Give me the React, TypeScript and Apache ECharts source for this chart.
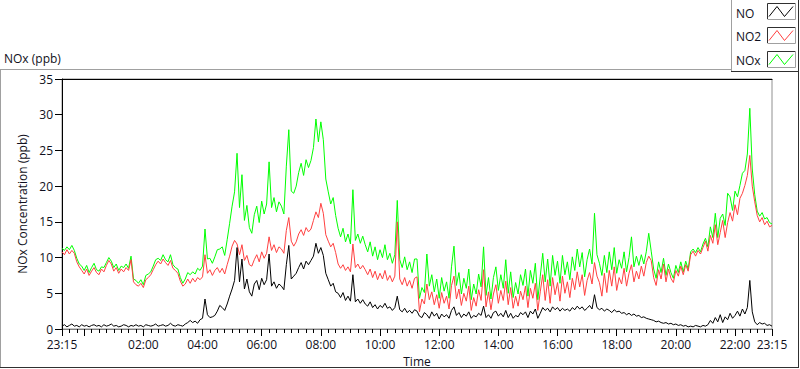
import React, { useEffect, useRef } from "react";
import * as echarts from "echarts";

// ---- Data ----
const SERIES_NAMES = ["NO", "NO2", "NOx"];
const SERIES_COLORS = ["#000000", "#ff4040", "#00ff00"];
const CHART_TITLE = "NOx (ppb)";
const Y_NAME = "NOx Concentration (ppb)";
const X_NAME = "Time";

// time axis in minutes after 22:00 of the previous day: 23:15 -> 75, next 23:15 -> 1515
const START_MIN = 75;
const END_MIN = 1515;
const STEP_MIN = 5;
const X_LABEL_VALUES = [75, 240, 360, 480, 600, 720, 840, 960, 1080, 1200, 1320, 1440, 1515];
const X_MAJOR_TICKS = [75, 120, 240, 360, 480, 600, 720, 840, 960, 1080, 1200, 1320, 1440, 1515];
const X_MINOR_STEP = 15;
const Y_MIN = 0;
const Y_MAX = 35;
const Y_INTERVAL = 5;

const NO = [
  0.4, 0.6, 0.3, 0.5, 0.7, 0.4, 0.5, 0.3, 0.6, 0.4, 0.5, 0.3,
  0.5, 0.6, 0.4, 0.5, 0.3, 0.6, 0.4, 0.5, 0.7, 0.4, 0.5, 0.3,
  0.4, 0.6, 0.5, 0.3, 0.5, 0.4, 0.6, 0.4, 0.5, 0.3, 0.6, 0.5,
  0.4, 0.5, 0.7, 0.4, 0.5, 0.6, 0.4, 0.5, 0.8, 0.5, 0.4, 0.6,
  0.5, 0.4, 0.7, 0.9, 1.2, 0.9, 1.1, 0.8, 1.3, 1.5, 4.2, 2.0,
  1.6, 1.7, 1.9, 2.5, 3.3, 3.0, 2.6, 3.5, 4.6, 5.6, 6.8, 11.4,
  6.6, 9.8, 5.6, 7.0, 5.2, 4.6, 6.3, 6.8, 5.5, 7.1, 6.2, 6.9,
  10.5, 6.0, 6.6, 5.7, 6.3, 6.0, 5.5, 9.0, 11.7, 7.0, 7.4, 7.8,
  8.6, 9.3, 8.4, 9.5, 9.0, 9.6, 10.2, 12.0, 10.6, 11.4, 10.3, 7.8,
  6.9, 6.0, 6.4, 5.2, 5.0, 4.4, 5.1, 4.0, 4.6, 3.9, 7.6, 3.8,
  4.2, 3.6, 4.1, 3.5, 3.2, 3.8, 3.0, 3.4, 2.8, 3.3, 3.0, 3.6,
  2.9, 3.1, 2.6, 3.0, 4.6, 2.7, 2.4, 2.9, 2.3, 2.6, 2.2, 2.7,
  2.5, 1.8, 1.6, 2.3, 2.0, 1.5, 2.4, 1.8, 2.2, 1.4, 2.1, 1.7,
  2.0, 1.5, 2.6, 3.1, 1.9, 2.3, 1.6, 2.1, 1.8, 2.4, 1.5, 1.9,
  1.7, 2.2, 1.9, 3.2, 1.6, 2.0, 1.5, 2.3, 2.5, 1.8, 2.2, 1.7,
  2.6, 1.6, 2.2, 1.5, 1.9, 1.7, 2.3, 2.0, 2.4, 1.6, 2.5, 2.1,
  2.8, 1.5, 2.2, 3.0, 2.6, 2.9, 2.4, 3.1, 2.7, 3.0, 2.5, 2.9,
  2.6, 2.8, 2.5, 3.0, 2.7, 3.2, 2.8, 3.1, 2.6, 2.9, 3.3, 2.8,
  4.8, 3.0, 2.7, 2.9, 2.5, 2.8, 2.6, 2.3, 2.7, 2.4, 2.5, 2.2,
  2.3, 2.0, 2.2, 1.9, 2.1, 1.8, 1.9, 1.6, 1.7, 1.5, 1.4, 1.3,
  1.2, 1.0, 1.1, 0.9, 0.8, 0.9, 0.7, 0.8, 0.6, 0.7, 0.5, 0.6,
  0.4, 0.5, 0.3, 0.4, 0.3, 0.5, 0.4, 0.3, 0.5, 0.4, 0.6, 1.2,
  0.8, 1.6, 1.0, 2.0, 0.9, 1.7, 1.3, 2.2, 1.5, 1.9, 2.5, 1.8,
  2.8, 2.1, 3.0, 6.8, 2.4, 1.0, 0.6, 0.9, 0.7, 0.8, 0.5, 0.6, 0.4,
];

const NO2 = [
  10.8, 10.4, 11.1, 10.5, 11.0, 10.6, 9.4, 8.7, 8.2, 7.7, 8.4, 7.5,
  8.1, 8.6, 7.9, 7.6, 8.4, 8.0, 8.9, 9.6, 9.1, 8.1, 8.6, 7.8,
  8.4, 8.0, 8.6, 8.2, 9.7, 6.6, 6.2, 6.0, 6.4, 5.8, 6.9, 7.2,
  7.6, 8.3, 9.0, 9.5, 9.1, 9.8, 9.3, 8.9, 9.6, 8.5, 8.2, 7.8,
  6.7, 6.0, 6.3, 7.0, 6.4, 7.1, 6.6, 7.2, 6.9, 7.3, 10.4, 7.8,
  8.3, 7.5, 8.2, 8.6, 7.9, 8.5, 7.7, 9.0, 10.2, 11.6, 12.4, 11.9,
  10.4, 11.8, 9.6, 10.3, 9.0, 8.8, 9.7, 10.4, 9.4, 10.8, 9.9, 10.6,
  12.9, 11.0, 11.8, 10.7, 11.5, 11.2, 10.6, 13.8, 15.6, 12.3, 11.6, 12.2,
  13.3, 13.9, 13.1, 14.2, 13.6, 14.0, 15.2, 16.4, 15.6, 17.6, 16.2, 13.2,
  12.3, 11.5, 12.0, 10.7, 9.1, 8.5, 9.0, 8.2, 8.7, 8.0, 11.9, 8.6,
  9.1, 8.4, 8.9, 8.3, 7.6, 8.4, 7.2, 8.1, 6.9, 7.8, 7.0, 8.2,
  6.8, 7.5, 6.6, 7.4, 15.0, 7.0, 6.2, 7.2, 6.0, 6.8, 5.7, 7.1,
  7.3, 2.4, 4.2, 3.5, 6.3, 4.1, 5.2, 3.4, 4.8, 2.9, 5.1, 3.6,
  4.6, 2.8, 6.1, 7.4, 4.2, 5.6, 3.3, 5.0, 3.9, 6.0, 2.6, 4.4,
  3.2, 5.5, 4.0, 8.3, 3.1, 5.2, 2.7, 4.9, 6.2, 3.6, 5.4, 4.0,
  6.7, 3.4, 5.8, 2.9, 4.6, 3.2, 5.3, 4.1, 6.0, 3.0, 5.7, 4.3,
  6.4, 2.6, 5.2, 7.6, 4.0, 6.9, 3.6, 7.2, 4.8, 6.5, 3.9, 7.4,
  5.0, 6.6, 4.4, 7.1, 5.5, 8.0, 5.9, 7.6, 4.7, 6.8, 7.9, 6.3,
  9.3, 7.4, 6.5, 4.6, 7.8, 5.1, 8.2, 6.0, 8.7, 5.4, 7.2, 6.3,
  8.5, 6.0, 7.8, 9.0, 6.6, 8.1, 7.0, 8.8, 7.4, 9.3, 10.2, 9.6,
  7.2, 6.1, 8.3, 7.0, 9.1, 6.6, 8.4, 7.1, 6.5, 8.2, 7.4, 8.8,
  7.6, 9.0, 8.1, 10.4, 10.9, 10.2, 11.0, 10.5, 11.4, 12.3, 10.9, 13.1,
  12.0, 14.6, 11.8, 13.5, 15.2, 12.8, 14.9, 16.3, 15.1, 17.4, 16.0, 18.3,
  19.0, 20.1, 21.5, 24.3, 20.0, 17.8, 15.9, 15.0, 15.6, 14.6, 15.1, 14.3, 14.5,
];

const NOX = [
  11.3, 11.0, 11.5, 11.1, 11.7, 11.0, 9.9, 9.1, 8.8, 8.2, 8.9, 7.9,
  8.6, 9.2, 8.3, 8.1, 8.7, 8.6, 9.3, 10.0, 9.5, 8.6, 9.1, 8.2,
  8.8, 8.6, 9.1, 8.5, 10.2, 7.0, 6.8, 6.4, 6.9, 6.2, 7.5, 7.7,
  8.0, 8.8, 9.7, 9.9, 9.6, 10.4, 9.7, 9.4, 10.4, 9.0, 8.6, 8.4,
  7.2, 6.4, 7.0, 7.9, 7.6, 8.0, 7.7, 8.5, 8.2, 8.8, 14.0, 9.8,
  9.9, 9.2, 10.1, 11.1, 11.2, 11.5, 10.3, 12.5, 14.8, 17.2, 19.2, 24.6,
  17.0, 21.6, 15.2, 17.3, 14.2, 13.4, 16.0, 17.2, 14.9, 17.9, 16.1, 17.5,
  23.4, 17.0, 18.4, 16.4, 17.8, 17.2, 16.1, 22.8, 27.9, 19.3, 19.0, 20.0,
  21.9, 23.2, 21.5, 23.7, 22.6, 23.6, 25.4, 29.4, 26.2, 29.0, 26.5, 21.0,
  19.2, 17.5, 18.4, 15.9, 14.1, 12.9, 14.1, 12.2, 13.3, 11.9, 19.5, 12.4,
  13.3, 12.0, 13.0, 11.8, 10.8, 12.2, 10.2, 11.5, 9.7, 11.1, 10.0, 11.8,
  9.7, 10.6, 9.2, 10.4, 18.0, 9.7, 8.6, 10.1, 8.3, 9.4, 7.9, 9.8,
  9.8, 4.3, 5.8, 5.1, 10.5, 6.0, 7.6, 5.2, 7.0, 4.3, 7.2, 5.3,
  6.6, 4.3, 8.7, 11.6, 6.1, 7.9, 4.9, 7.1, 5.7, 8.4, 4.1, 6.3,
  4.9, 7.7, 5.9, 11.5, 4.7, 7.2, 4.2, 7.2, 8.7, 5.4, 7.6, 5.7,
  9.7, 5.0, 8.0, 4.4, 6.5, 4.9, 7.6, 6.1, 8.4, 4.6, 8.2, 6.4,
  9.2, 4.1, 7.4, 10.6, 6.6, 9.8, 6.0, 10.3, 7.5, 9.5, 6.4, 10.3,
  7.6, 9.4, 6.9, 10.1, 8.2, 11.2, 8.7, 10.7, 7.3, 9.7, 11.2, 9.1,
  16.2, 10.4, 9.2, 7.5, 10.3, 7.9, 10.8, 8.3, 11.4, 7.8, 9.7, 8.5,
  10.8, 8.0, 10.0, 12.9, 8.7, 10.2, 8.9, 10.4, 9.1, 10.8, 13.4, 10.9,
  8.4, 7.1, 9.4, 7.9, 9.9, 7.5, 9.1, 7.9, 7.1, 8.9, 7.9, 9.4,
  8.0, 9.5, 8.4, 10.8, 11.2, 10.7, 11.4, 10.8, 11.9, 12.7, 11.5, 14.3,
  12.8, 16.2, 12.8, 15.5, 16.1, 14.5, 19.0, 18.5, 16.6, 19.3, 18.5, 20.1,
  21.8, 22.2, 24.5, 30.9, 22.4, 18.8, 16.5, 15.8, 16.3, 15.4, 15.6, 14.9, 14.7,
];

const SERIES_VALUES = [NO, NO2, NOX];

const FONT = "'Open Sans', 'Noto Sans', sans-serif";
const TEXT_COLOR = "#101020";

function fmtTime(v: number): string {
  const h = (22 + Math.floor(v / 60)) % 24;
  const m = ((v % 60) + 60) % 60;
  return String(h).padStart(2, "0") + ":" + String(m).padStart(2, "0");
}

function toPairs(values: number[]): [number, number][] {
  return values.map((v, i) => [START_MIN + i * STEP_MIN, v]);
}

export default function App() {
  const ref = useRef<HTMLDivElement>(null);

  useEffect(() => {
    if (!ref.current) return;
    const chart = echarts.init(ref.current, undefined, { renderer: "svg" });

    const minorTicks: number[] = [];
    for (let v = START_MIN; v <= END_MIN; v += X_MINOR_STEP) minorTicks.push(v);

    // draw order: NOx (bottom), NO2, NO (top)
    const order = [2, 1, 0];
    const series = order.map((k) => ({
      name: SERIES_NAMES[k],
      type: "line",
      data: toPairs(SERIES_VALUES[k]),
      showSymbol: false,
      symbol: "none",
      lineStyle: { color: SERIES_COLORS[k], width: 1 },
      itemStyle: { color: SERIES_COLORS[k] },
      xAxisIndex: 0,
      yAxisIndex: 0,
      silent: true,
    }));

    // legend graphics
    const legendTop = [3, 27, 51];
    const legendTextY = [13, 36, 60];
    const legendEls: any[] = [
      { type: "rect", shape: { x: 731, y: 0, width: 68, height: 72 }, style: { fill: "#ffffff" }, z: 100 },
      { type: "line", shape: { x1: 731.5, y1: 0, x2: 731.5, y2: 72 }, style: { stroke: "#a0a0a0", lineWidth: 1 }, z: 101 },
      { type: "line", shape: { x1: 731, y1: 71.5, x2: 799, y2: 71.5 }, style: { stroke: "#303030", lineWidth: 1 }, z: 101 },
    ];
    SERIES_NAMES.forEach((name, k) => {
      const t = legendTop[k];
      legendEls.push({
        type: "text",
        style: { text: name, x: 736, y: legendTextY[k], font: `12px ${FONT}`, fill: TEXT_COLOR, verticalAlign: "middle", align: "left" },
        z: 102,
      });
      legendEls.push({ type: "rect", shape: { x: 767, y: t, width: 28, height: 16 }, style: { fill: "#ffffff" }, z: 101 });
      legendEls.push({ type: "polyline", shape: { points: [[767.5, t + 16], [767.5, t + 0.5], [795, t + 0.5]] }, style: { stroke: "#303030", lineWidth: 1, fill: null }, z: 102 });
      legendEls.push({ type: "polyline", shape: { points: [[767.5, t + 16.5], [795.5, t + 16.5], [795.5, t]] }, style: { stroke: "#a0a0a0", lineWidth: 1, fill: null }, z: 102 });
      legendEls.push({
        type: "polyline",
        shape: { points: [[769, t + 13.5], [777, t + 3.5], [784.5, t + 13.5], [793, t + 3.5]] },
        style: { stroke: SERIES_COLORS[k], lineWidth: 1, fill: null },
        z: 103,
      });
    });

    const frameEls: any[] = [
      { type: "line", shape: { x1: 0, y1: 69.5, x2: 731, y2: 69.5 }, style: { stroke: "#a0a0a0", lineWidth: 1 }, z: 50 },
      { type: "line", shape: { x1: 0.5, y1: 69, x2: 0.5, y2: 368 }, style: { stroke: "#a0a0a0", lineWidth: 1 }, z: 50 },
      { type: "line", shape: { x1: 0, y1: 367.5, x2: 799, y2: 367.5 }, style: { stroke: "#303030", lineWidth: 1 }, z: 50 },
      { type: "line", shape: { x1: 798.5, y1: 0, x2: 798.5, y2: 368 }, style: { stroke: "#303030", lineWidth: 1 }, z: 104 },
      {
        type: "text",
        style: { text: CHART_TITLE, x: 4, y: 58.5, font: `12px ${FONT}`, fill: TEXT_COLOR, verticalAlign: "middle", align: "left" },
        z: 50,
      },
    ];

    const baseX = {
      type: "value",
      min: START_MIN,
      max: END_MIN,
      gridIndex: 0,
      splitLine: { show: false },
    };

    chart.setOption({
      animation: false,
      backgroundColor: "#ffffff",
      textStyle: { fontFamily: FONT },
      grid: {
        left: 62,
        top: 79,
        width: 710,
        height: 250,
        containLabel: false,
        outerBoundsMode: "none",
        show: true,
        borderColor: "#909090",
        borderWidth: 1,
        backgroundColor: "#ffffff",
      },
      xAxis: [
        {
          ...baseX,
          position: "bottom",
          name: X_NAME,
          nameLocation: "middle",
          nameGap: 24,
          nameTextStyle: { fontSize: 12, color: TEXT_COLOR, fontFamily: FONT, lineHeight: 12 },
          axisLine: { show: true, onZero: false, lineStyle: { color: "#808080", width: 1 } },
          axisTick: { show: true, length: 7, lineStyle: { color: "#000000" }, customValues: X_MAJOR_TICKS },
          axisLabel: {
            show: true,
            customValues: X_LABEL_VALUES,
            formatter: (v: number) => fmtTime(v),
            fontSize: 12,
            lineHeight: 13,
            color: TEXT_COLOR,
            fontFamily: FONT,
            margin: 9,
            showMinLabel: true,
            showMaxLabel: true,
          },
        },
        {
          ...baseX,
          position: "bottom",
          axisLine: { show: false, onZero: false },
          axisTick: { show: true, length: 4, lineStyle: { color: "#000000" }, customValues: minorTicks },
          axisLabel: { show: false },
        },
        {
          ...baseX,
          position: "top",
          axisLine: { show: true, onZero: false, lineStyle: { color: "#000000", width: 1 } },
          axisTick: { show: false },
          axisLabel: { show: false },
        },
      ],
      yAxis: [
        {
          type: "value",
          min: Y_MIN,
          max: Y_MAX,
          interval: Y_INTERVAL,
          position: "left",
          name: Y_NAME,
          nameLocation: "middle",
          nameGap: 23,
          nameTextStyle: { fontSize: 12, color: TEXT_COLOR, fontFamily: FONT },
          axisLine: { show: true, onZero: false, lineStyle: { color: "#000000", width: 1 } },
          axisTick: { show: true, length: 7, lineStyle: { color: "#000000" } },
          axisLabel: { fontSize: 12, lineHeight: 12, color: TEXT_COLOR, fontFamily: FONT, margin: 9 },
          splitLine: { show: false },
        },
      ],
      series,
      graphic: { elements: [...frameEls, ...legendEls] },
    });

    return () => {
      chart.dispose();
    };
  }, []);

  return (
    <div
      ref={ref}
      style={{ position: "absolute", left: 0, top: 0, width: 800, height: 369, background: "#ffffff" }}
    />
  );
}
